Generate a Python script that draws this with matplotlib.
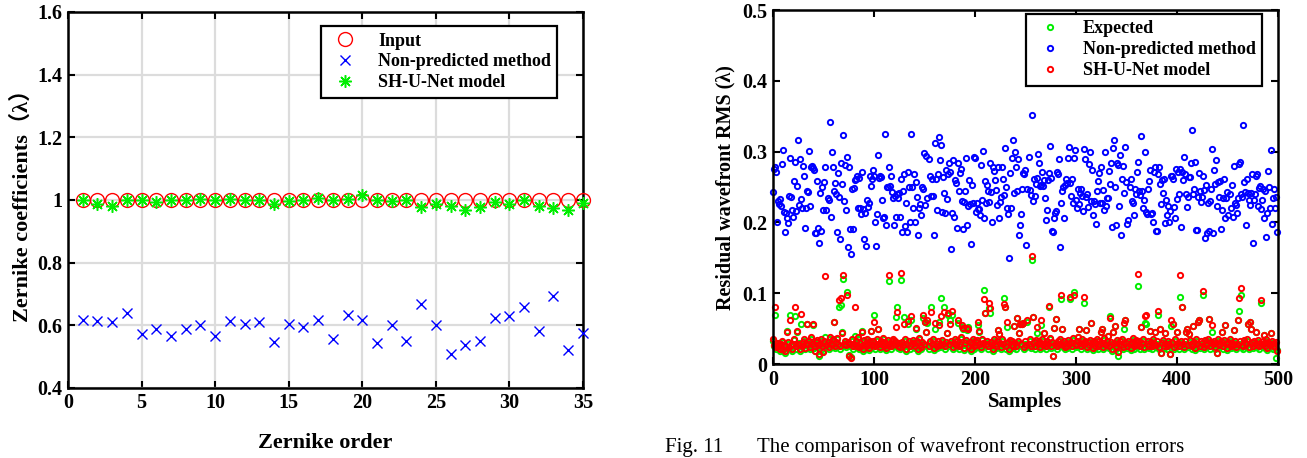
import numpy as np
import matplotlib
matplotlib.use("Agg")
import matplotlib.pyplot as plt

plt.rcParams['font.family'] = ['Liberation Serif', 'Noto Sans CJK SC', 'DejaVu Serif']
plt.rcParams['font.weight'] = 'bold'
plt.rcParams['axes.labelweight'] = 'bold'

# ---- left: Zernike coefficients per order ----
orders = np.arange(1, 36)
coef_input = [1.0] * 35
coef_nonpred = [0.618, 0.612, 0.611, 0.639, 0.573, 0.587, 0.565, 0.588, 0.600, 0.565,
                0.614, 0.603, 0.611, 0.548, 0.604, 0.596, 0.616, 0.556, 0.633, 0.616,
                0.543, 0.601, 0.550, 0.668, 0.601, 0.508, 0.536, 0.551, 0.622, 0.628,
                0.659, 0.583, 0.692, 0.521, 0.575]
coef_shunet = [1.000, 0.988, 0.982, 1.000, 1.000, 0.992, 1.000, 1.000, 1.002, 1.000,
               1.002, 1.000, 1.000, 0.987, 0.995, 1.000, 1.005, 1.000, 1.002, 1.015,
               1.000, 0.995, 1.000, 0.978, 0.988, 0.980, 0.968, 0.978, 0.994, 0.986,
               1.000, 0.981, 0.975, 0.968, 0.991]

# ---- right: residual wavefront RMS per sample (values x 1000) ----
rms_nonpred = [
    243, 275, 278, 272, 201, 230, 226, 233, 224, 283, 302, 215, 187, 213, 206, 199, 237, 291, 236, 217,
    208, 259, 286, 216, 252, 317, 225, 290, 233, 221, 280, 266, 192, 221, 244, 243, 301, 223, 279, 280,
    277, 274, 185, 185, 259, 192, 171, 242, 188, 250, 218, 257, 278, 217, 234, 232, 342, 208, 300, 279,
    245, 256, 240, 186, 270, 236, 176, 284, 254, 323, 230, 281, 218, 293, 166, 279, 191, 156, 248, 191,
    249, 260, 262, 265, 220, 263, 220, 212, 272, 219, 177, 214, 167, 232, 222, 228, 265, 252, 262, 274,
    266, 200, 167, 212, 295, 263, 266, 264, 232, 206, 208, 325, 196, 250, 250, 279, 252, 265, 243, 234,
    196, 237, 208, 240, 234, 241, 208, 261, 186, 244, 269, 195, 227, 186, 271, 250, 200, 325, 250, 221,
    269, 200, 257, 236, 182, 221, 226, 210, 250, 247, 298, 225, 294, 235, 290, 265, 238, 261, 238, 182,
    312, 261, 218, 269, 321, 288, 310, 215, 264, 242, 214, 274, 233, 268, 284, 271, 163, 214, 288, 208,
    260, 256, 192, 284, 244, 270, 275, 231, 191, 229, 244, 291, 197, 223, 260, 226, 169, 253, 227, 292,
    291, 215, 227, 219, 219, 210, 281, 232, 301, 206, 259, 228, 253, 244, 229, 284, 243, 201, 279, 273,
    260, 246, 225, 279, 207, 229, 236, 279, 262, 239, 305, 250, 221, 212, 150, 270, 220, 291, 317, 242,
    300, 278, 244, 289, 182, 196, 212, 247, 270, 268, 274, 168, 247, 292, 246, 239, 352, 230, 262, 237,
    254, 263, 297, 284, 252, 253, 272, 251, 260, 234, 204, 218, 260, 270, 308, 263, 188, 186, 206, 213,
    216, 272, 268, 290, 166, 227, 245, 250, 207, 253, 262, 256, 291, 307, 256, 237, 261, 228, 291, 302,
    232, 221, 247, 226, 241, 248, 237, 216, 304, 290, 236, 240, 222, 282, 299, 231, 274, 211, 230, 226,
    198, 245, 258, 270, 227, 279, 227, 246, 218, 300, 224, 234, 234, 273, 254, 284, 194, 305, 316, 250,
    197, 284, 281, 223, 296, 182, 262, 280, 242, 306, 257, 198, 204, 250, 262, 231, 227, 210, 247, 240,
    271, 286, 245, 239, 322, 245, 220, 232, 300, 215, 212, 247, 258, 274, 212, 214, 201, 271, 278, 188,
    188, 268, 278, 254, 226, 260, 241, 262, 199, 232, 210, 223, 200, 216, 266, 266, 261, 222, 207, 276,
    233, 271, 240, 276, 194, 272, 260, 293, 269, 240, 222, 236, 264, 264, 284, 330, 240, 248, 285, 189,
    189, 236, 270, 245, 229, 236, 265, 246, 178, 253, 185, 227, 188, 230, 247, 304, 185, 274, 255, 288,
    224, 257, 236, 258, 191, 217, 235, 262, 207, 234, 243, 211, 240, 220, 253, 208, 280, 227, 225, 214,
    235, 282, 286, 240, 236, 337, 257, 243, 197, 262, 242, 232, 225, 242, 269, 171, 232, 240, 266, 268,
    224, 249, 251, 219, 232, 247, 206, 245, 180, 213, 273, 250, 221, 302, 198, 234, 247, 221, 236, 186,
]
rms_expected = [
    33, 25, 70, 22, 28, 24, 30, 19, 26, 31, 20, 27, 16, 23, 47, 29, 21, 69, 25, 18,
    27, 34, 68, 22, 45, 26, 30, 19, 57, 24, 28, 33, 21, 27, 57, 25, 30, 22, 35, 26,
    55, 23, 18, 29, 31, 24, 12, 27, 33, 22, 18, 30, 38, 25, 29, 21, 36, 27, 24, 32,
    60, 23, 28, 35, 26, 80, 22, 84, 45, 120, 27, 31, 24, 102, 29, 13, 25, 10, 33, 22,
    26, 40, 30, 24, 36, 21, 28, 23, 47, 19, 31, 26, 22, 34, 25, 20, 29, 47, 24, 30,
    69, 22, 27, 33, 49, 25, 21, 30, 26, 35, 23, 28, 20, 24, 31, 118, 26, 22, 29, 34,
    25, 30, 66, 81, 23, 27, 21, 119, 28, 24, 66, 33, 19, 26, 57, 30, 22, 62, 25, 31,
    27, 23, 50, 29, 18, 35, 24, 21, 28, 65, 26, 60, 45, 58, 22, 30, 81, 25, 33, 20,
    50, 27, 23, 29, 60, 24, 94, 31, 26, 80, 22, 28, 44, 70, 25, 62, 30, 70, 21, 27,
    32, 24, 29, 58, 22, 26, 35, 52, 50, 20, 27, 31, 48, 53, 23, 28, 19, 25, 33, 22,
    29, 24, 31, 55, 46, 26, 21, 34, 27, 104, 72, 25, 30, 22, 79, 72, 28, 24, 19, 32,
    26, 23, 30, 48, 43, 27, 21, 33, 25, 94, 80, 22, 53, 28, 18, 31, 24, 29, 23, 54,
    27, 22, 65, 30, 44, 57, 25, 57, 58, 21, 29, 24, 60, 26, 32, 23, 147, 67, 28, 22,
    31, 44, 25, 29, 21, 55, 33, 24, 44, 27, 22, 30, 26, 80, 35, 23, 28, 12, 51, 25,
    64, 22, 29, 26, 33, 92, 49, 24, 30, 21, 27, 23, 31, 25, 92, 28, 22, 34, 102, 26,
    24, 30, 38, 49, 27, 22, 33, 25, 87, 29, 48, 21, 28, 24, 31, 58, 26, 20, 30, 23,
    27, 32, 22, 29, 25, 45, 49, 21, 34, 26, 24, 30, 40, 23, 68, 28, 19, 45, 27, 54,
    22, 31, 12, 26, 29, 24, 33, 21, 50, 63, 27, 23, 30, 25, 20, 28, 34, 22, 26, 31,
    24, 110, 29, 22, 53, 27, 32, 21, 58, 57, 25, 30, 23, 47, 28, 22, 33, 26, 46, 24,
    29, 69, 21, 50, 16, 27, 31, 23, 44, 26, 22, 30, 25, 14, 54, 28, 56, 21, 33, 24,
    46, 27, 22, 95, 30, 80, 25, 21, 29, 46, 50, 24, 42, 31, 26, 22, 54, 28, 20, 33,
    25, 60, 62, 23, 29, 27, 98, 21, 31, 24, 26, 33, 64, 22, 28, 45, 25, 30, 21, 27,
    15, 32, 24, 26, 29, 46, 22, 31, 55, 25, 20, 28, 33, 23, 27, 24, 48, 30, 21, 26,
    62, 75, 29, 97, 24, 22, 31, 27, 25, 33, 57, 21, 60, 49, 28, 23, 30, 26, 46, 24,
    31, 22, 27, 86, 25, 29, 41, 23, 32, 20, 28, 26, 24, 44, 30, 22, 27, 23, 9, 20,
]
rms_shunet = [
    36, 27, 81, 24, 30, 26, 28, 22, 29, 33, 22, 25, 18, 26, 45, 31, 24, 62, 27, 21,
    29, 36, 80, 25, 47, 28, 27, 22, 71, 26, 31, 35, 23, 29, 56, 28, 33, 24, 38, 29,
    57, 25, 18, 31, 34, 27, 14, 29, 35, 25, 17, 33, 125, 27, 31, 24, 38, 30, 27, 35,
    60, 26, 31, 37, 28, 91, 25, 94, 44, 126, 29, 33, 27, 98, 31, 12, 28, 8, 35, 25,
    29, 80, 33, 26, 38, 24, 30, 26, 46, 22, 34, 28, 25, 36, 27, 23, 32, 47, 27, 33,
    60, 25, 29, 35, 49, 28, 24, 33, 28, 37, 26, 31, 23, 27, 34, 126, 29, 25, 32, 36,
    28, 33, 53, 74, 26, 30, 24, 129, 31, 27, 56, 35, 22, 29, 61, 33, 25, 68, 28, 34,
    30, 26, 51, 32, 21, 37, 27, 24, 31, 69, 29, 60, 45, 62, 25, 33, 74, 28, 35, 23,
    58, 30, 26, 32, 55, 27, 68, 34, 29, 73, 25, 31, 44, 72, 28, 57, 33, 75, 24, 30,
    35, 27, 32, 63, 25, 29, 38, 55, 51, 23, 30, 34, 51, 50, 26, 31, 22, 28, 36, 25,
    32, 27, 34, 60, 47, 29, 24, 36, 30, 92, 72, 28, 33, 25, 86, 79, 31, 27, 22, 35,
    29, 26, 33, 48, 43, 30, 24, 35, 28, 85, 80, 25, 60, 31, 21, 34, 27, 32, 26, 54,
    30, 25, 65, 33, 44, 57, 28, 57, 58, 24, 32, 27, 63, 29, 35, 26, 153, 67, 31, 25,
    34, 52, 28, 32, 24, 62, 36, 27, 44, 30, 25, 33, 29, 82, 37, 26, 31, 12, 51, 28,
    64, 25, 32, 29, 36, 98, 49, 27, 33, 24, 30, 26, 34, 28, 95, 31, 25, 37, 97, 29,
    27, 33, 38, 49, 30, 25, 36, 28, 95, 32, 48, 24, 31, 27, 34, 58, 29, 23, 33, 26,
    30, 35, 25, 32, 28, 45, 49, 24, 37, 29, 27, 33, 40, 26, 65, 31, 22, 45, 30, 54,
    25, 34, 17, 29, 32, 27, 36, 24, 58, 63, 30, 26, 33, 28, 23, 31, 37, 25, 29, 34,
    27, 127, 32, 25, 53, 30, 35, 24, 68, 69, 28, 33, 26, 47, 31, 25, 36, 29, 46, 27,
    32, 75, 24, 50, 16, 30, 34, 26, 44, 29, 25, 33, 28, 14, 62, 31, 56, 24, 36, 27,
    46, 30, 25, 126, 33, 80, 28, 24, 32, 46, 50, 27, 42, 34, 29, 25, 54, 31, 23, 36,
    28, 60, 62, 26, 32, 30, 103, 24, 34, 27, 29, 36, 64, 25, 31, 55, 28, 33, 24, 30,
    15, 35, 27, 29, 32, 46, 25, 34, 55, 28, 23, 31, 36, 26, 30, 27, 48, 33, 24, 29,
    62, 94, 32, 107, 27, 25, 34, 30, 28, 36, 57, 24, 60, 49, 31, 26, 33, 29, 46, 27,
    34, 25, 30, 90, 28, 32, 41, 26, 35, 23, 31, 29, 27, 44, 33, 25, 30, 26, 31, 18,
]

samples = np.arange(len(rms_nonpred))
rms_nonpred = np.array(rms_nonpred) / 1000
rms_expected = np.array(rms_expected) / 1000
rms_shunet = np.array(rms_shunet) / 1000

RED, BLUE, GREEN = '#ff0000', '#0000ff', '#00ee00'


def matlab_box(ax):
    for s in ax.spines.values():
        s.set_linewidth(1.8)
    ax.tick_params(direction='in', top=True, right=True, length=5, width=1.5,
                   labelsize=14.5, pad=4)
    for lbl in ax.get_xticklabels() + ax.get_yticklabels():
        lbl.set_fontweight('bold')


def boxed_legend(ax, anchor):
    leg = ax.legend(loc='upper right', bbox_to_anchor=anchor, fontsize=13,
                    frameon=True, fancybox=False, edgecolor='black', framealpha=1,
                    handletextpad=0.8, borderpad=0.35, labelspacing=0.22,
                    borderaxespad=0)
    leg.get_frame().set_linewidth(1.6)
    for t in leg.get_texts():
        t.set_fontweight('bold')
    return leg


fig = plt.figure(figsize=(13.07, 4.58), dpi=100)

# left panel
ax1 = fig.add_axes([0.052, 0.153, 0.394, 0.821])
ax1.plot(orders, coef_input, 'o', ms=10, mfc='none', mec=RED, mew=1.0,
         label='Input', clip_on=False, zorder=3)
ax1.plot(orders, coef_nonpred, 'x', ms=7, mec=BLUE, mew=1.0,
         label='Non-predicted method', clip_on=False, zorder=3)
ax1.plot(orders, coef_shunet, marker=(8, 2, 0), ls='none', ms=9, mec=GREEN, mew=1.1,
         label='SH-U-Net model', clip_on=False, zorder=4)
ax1.set_xlim(0, 35)
ax1.set_ylim(0.4, 1.6)
ax1.set_xticks(range(0, 36, 5))
ax1.set_yticks([0.4, 0.6, 0.8, 1.0, 1.2, 1.4, 1.6])
ax1.set_yticklabels(['0.4', '0.6', '0.8', '1', '1.2', '1.4', '1.6'])
ax1.grid(True, color='#dcdcdc', linewidth=1.6)
ax1.set_axisbelow(True)
matlab_box(ax1)
ax1.set_xlabel('Zernike order', fontsize=16, labelpad=14)
ax1.set_ylabel('Zernike coefficients\uff08\u03bb\uff09', fontsize=16, labelpad=3)
boxed_legend(ax1, (0.95, 0.962))

# right panel
ax2 = fig.add_axes([0.5914, 0.205, 0.3864, 0.773])
ax2.plot(samples, rms_expected, 'o', ms=3.8, mfc='none', mec=GREEN, mew=1.4,
         label='Expected', clip_on=False)
ax2.plot(samples, rms_nonpred, 'o', ms=3.8, mfc='none', mec=BLUE, mew=1.4,
         label='Non-predicted method', clip_on=False)
ax2.plot(samples, rms_shunet, 'o', ms=3.8, mfc='none', mec=RED, mew=1.4,
         label='SH-U-Net model', clip_on=False)
ax2.set_xlim(0, 500)
ax2.set_ylim(0, 0.5)
ax2.set_xticks(range(0, 501, 100))
ax2.set_yticks([0, 0.1, 0.2, 0.3, 0.4, 0.5])
ax2.set_yticklabels(['0', '0.1', '0.2', '0.3', '0.4', '0.5'])
matlab_box(ax2)
ax2.set_xlabel('Samples', fontsize=15, labelpad=2)
ax2.set_ylabel('Residual wavefront RMS (\u03bb)', fontsize=14.5, labelpad=5)
boxed_legend(ax2, (0.968, 0.989))

fig.text(0.509, 0.013, 'Fig. 11', fontsize=15, fontweight='normal', va='baseline')
fig.text(0.579, 0.013, 'The comparison of wavefront reconstruction errors',
         fontsize=15, fontweight='normal', va='baseline')

fig.savefig('out.png', dpi=100)
